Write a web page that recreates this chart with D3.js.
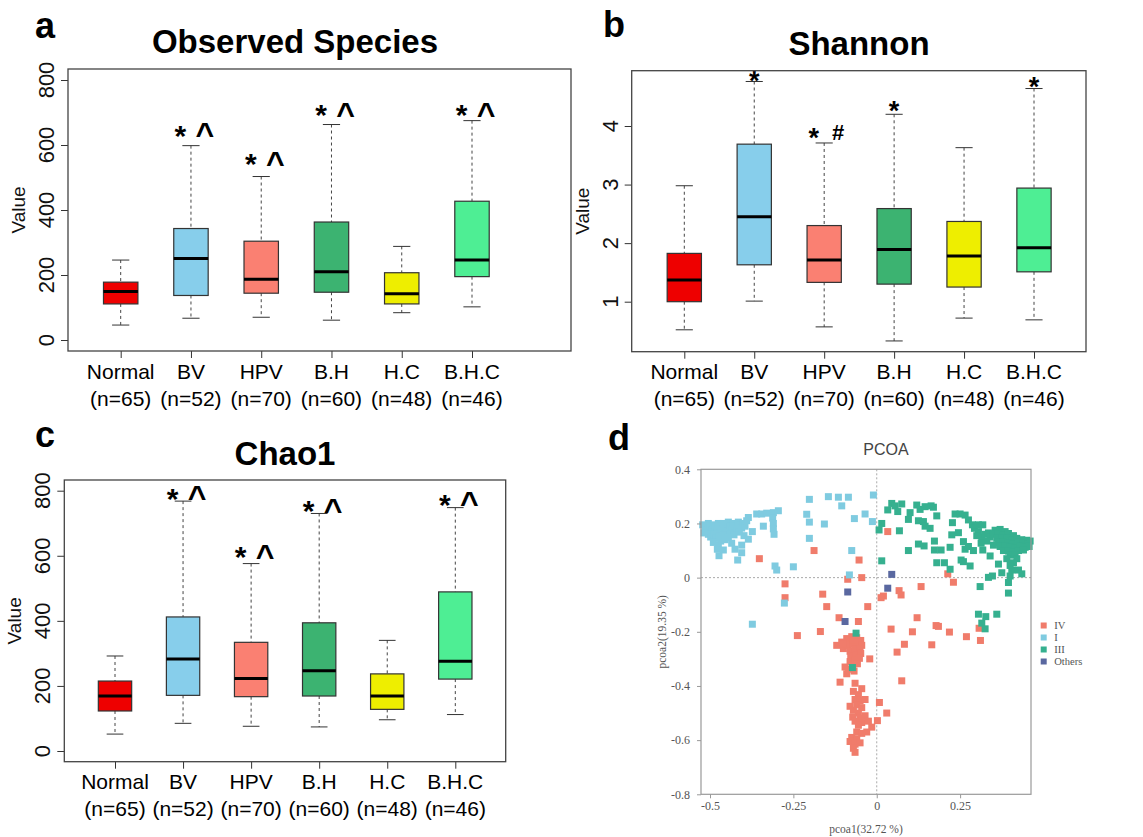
<!DOCTYPE html>
<html lang="en">
<head>
<meta charset="UTF-8">
<title>Alpha diversity and PCoA</title>
<script src="https://cdn.jsdelivr.net/npm/d3@7"></script>
<style>
  body { margin: 0; background: #fff; }
  svg { font-family: "Liberation Sans", Arial, sans-serif; }
</style>
</head>
<body>
<svg width="1143" height="837" id="mainsvg"></svg>
<script>
const groups = ["Normal", "BV", "HPV", "B.H", "H.C", "B.H.C"];
const groupSizes = ["(n=65)", "(n=52)", "(n=70)", "(n=60)", "(n=48)", "(n=46)"];
const boxColors = ["#EE0000", "#87CEEB", "#FA8072", "#3CB371", "#EEEE00", "#4EEE94"];

// each row: lower whisker, Q1, median, Q3, upper whisker
const observedStats = [[46,111,149,178,246],[67,137,251,343,598],[70,144,187,304,503],[61,147,210,363,663],[84,111,142,207,288],[102,195,246,427,675]];
const observedSig = ["", "* ^", "* ^", "* ^", "", "* ^"];
const observedSigAt = [null, 651, 562, 713, null, 713];

const shannonStats = [[0.52,1.0,1.37,1.825,2.98],[1.01,1.63,2.45,3.69,4.76],[0.57,1.33,1.71,2.30,3.71],[0.33,1.30,1.89,2.59,4.20],[0.72,1.25,1.78,2.37,3.63],[0.69,1.51,1.92,2.94,4.64]];
const shannonSig = ["", "*", "* #", "*", "", "*"];
const shannonSigAt = [null, 4.87, 3.90, 4.36, null, 4.78];

const chaoStats = [[52,123,169,215,292],[85,171,283,412,768],[76,167,223,334,576],[74,169,247,394,730],[96,128,169,237,340],[112,221,276,489,748]];
const chaoSig = ["", "* ^", "* ^", "* ^", "", "* ^"];
const chaoSigAt = [null, 797, 618, 758, null, 778];

const countTicks = [0, 200, 400, 600, 800];
const shannonTicks = [1, 2, 3, 4];

// PCoA
const pcoaClasses = ["IV", "I", "III", "Others"];
const pcoaColors = ["#F07C6B", "#7FCBE0", "#36B08F", "#5A68A0"];
const pcoaXTicks = [-0.5, -0.25, 0, 0.25];
const pcoaYTicks = [0.4, 0.2, 0, -0.2, -0.4, -0.6, -0.8];

const pcoaIV = [[0.033,0.17],[-0.188,0.1],[-0.352,0.07],[-0.053,0.065],[-0.087,-0.006],[-0.045,0.0],[0.213,0.014],[0.23,-0.017],
  [-0.275,-0.023],[-0.275,-0.074],[-0.162,-0.061],[-0.15,-0.107],[-0.027,-0.107],[0.067,-0.048],[0.073,-0.064],[0.02,-0.068],
  [0.013,-0.074],[0.133,-0.033],[-0.113,-0.148],[-0.055,-0.162],[-0.169,-0.199],[-0.238,-0.214],[0.043,-0.19],[0.107,-0.2],
  [0.121,-0.148],[0.083,-0.246],[0.061,-0.275],[0.075,-0.381],[0.165,-0.248],[0.178,-0.177],[0.185,-0.18],[0.218,-0.201],
  [0.269,-0.218],[0.307,-0.187],[0.311,-0.232],[-0.021,-0.3],[0.008,-0.461],[0.03,-0.5],[0.002,-0.528],[-0.015,-0.552],[-0.11,-0.386],
  [-0.12,-0.25],[-0.105,-0.238],[-0.09,-0.225],[-0.075,-0.218],[-0.06,-0.222],[-0.048,-0.232],[-0.1,-0.262],[-0.085,-0.25],
  [-0.07,-0.245],[-0.055,-0.24],[-0.045,-0.25],[-0.08,-0.272],[-0.065,-0.265],[-0.05,-0.262],[-0.078,-0.29],[-0.062,-0.285],
  [-0.048,-0.28],[-0.08,-0.31],[-0.066,-0.303],[-0.052,-0.298],[-0.072,-0.322],[-0.058,-0.318],[-0.085,-0.338],[-0.095,-0.33],
  [-0.068,-0.345],[-0.09,-0.355],[-0.1,-0.245],[-0.07,-0.23],
  [-0.065,-0.39],[-0.045,-0.41],[-0.07,-0.42],[-0.055,-0.432],[-0.065,-0.45],[-0.05,-0.455],[-0.035,-0.45],[-0.08,-0.475],
  [-0.06,-0.47],[-0.045,-0.48],[-0.07,-0.49],[-0.055,-0.5],[-0.072,-0.515],[-0.05,-0.52],[-0.035,-0.51],[-0.065,-0.53],
  [-0.045,-0.535],[-0.025,-0.53],[-0.055,-0.545],[-0.06,-0.57],[-0.045,-0.575],[-0.03,-0.57],[-0.075,-0.59],[-0.06,-0.595],
  [-0.08,-0.605],[-0.065,-0.615],[-0.05,-0.61],[-0.07,-0.63],[-0.065,-0.645]];

const pcoaI = [[-0.522,0.195],[-0.515,0.185],[-0.51,0.175],[-0.518,0.165],[-0.505,0.2],[-0.5,0.19],[-0.495,0.175],[-0.505,0.16],
  [-0.498,0.15],[-0.49,0.195],[-0.485,0.185],[-0.48,0.17],[-0.488,0.16],[-0.483,0.145],[-0.475,0.2],[-0.47,0.19],[-0.465,0.178],
  [-0.472,0.155],[-0.468,0.135],[-0.46,0.2],[-0.455,0.188],[-0.45,0.172],[-0.458,0.158],[-0.455,0.14],[-0.445,0.205],[-0.44,0.192],
  [-0.435,0.18],[-0.44,0.162],[-0.43,0.2],[-0.425,0.19],[-0.42,0.176],[-0.428,0.158],[-0.415,0.205],[-0.41,0.195],[-0.405,0.183],
  [-0.412,0.168],[-0.4,0.2],[-0.395,0.19],[-0.39,0.21],[-0.385,0.222],[-0.398,0.155],[-0.475,0.12],[-0.478,0.105],[-0.49,0.13],
  [-0.46,0.102],[-0.473,0.081],[-0.435,0.127],[-0.425,0.105],[-0.445,0.148],
  [-0.373,0.17],[-0.385,0.142],[-0.405,0.12],[-0.405,0.092],[-0.417,0.065],
  [-0.36,0.235],[-0.345,0.235],[-0.33,0.238],[-0.31,0.24],[-0.295,0.247],[-0.34,0.19],
  [-0.312,0.22],[-0.31,0.2],[-0.31,0.18],[-0.308,0.16],[-0.305,0.043],[-0.3,0.028],[-0.25,0.04],
  [-0.202,0.289],[-0.21,0.234],[-0.202,0.205],[-0.202,0.145],[-0.157,0.198],[-0.145,0.299],[-0.115,0.297],[-0.085,0.297],
  [-0.105,0.265],[-0.067,0.218],[-0.035,0.235],[-0.013,0.207],[-0.01,0.305],[-0.075,0.1],[-0.082,0.01],[-0.277,-0.094],[-0.373,-0.172]];

const pcoaIII = [[0.015,0.2],[0.007,0.176],[0.045,0.274],[0.055,0.265],[0.075,0.272],[0.033,0.25],[0.063,0.244],[0.068,0.173],
  [0.095,0.215],[0.1,0.24],[0.12,0.268],[0.13,0.252],[0.145,0.262],[0.163,0.265],[0.17,0.26],[0.125,0.21],[0.14,0.207],[0.145,0.19],
  [0.16,0.182],[0.18,0.228],[0.095,0.1],[0.125,0.124],[0.142,0.117],[0.173,0.135],[0.173,0.102],[0.193,0.102],[0.22,0.112],
  [0.225,0.158],[0.18,0.055],[0.203,0.055],[0.22,0.031],[0.015,0.062],[0.227,0.203],[0.235,0.235],[0.25,0.235],[0.265,0.231],
  [0.275,0.213],[0.287,0.195],[0.293,0.182],[0.245,0.166],[0.26,0.133],[0.265,0.105],[0.275,0.115],[0.29,0.1],[0.253,0.065],
  [0.26,0.059],[0.28,0.043],[0.305,0.195],[0.318,0.195],[0.305,0.17],[0.3,0.155],[0.315,0.15],[0.325,0.16],[0.335,0.165],
  [0.34,0.15],[0.33,0.135],[0.313,0.127],[0.318,0.102],[0.34,0.08],
  [0.355,0.175],[0.37,0.178],[0.385,0.17],[0.35,0.16],[0.365,0.162],[0.38,0.158],[0.395,0.163],[0.41,0.155],[0.36,0.145],
  [0.375,0.148],[0.39,0.145],[0.405,0.14],[0.42,0.145],[0.435,0.14],[0.45,0.138],[0.365,0.13],[0.38,0.132],[0.395,0.128],
  [0.41,0.125],[0.425,0.13],[0.44,0.128],[0.455,0.125],[0.46,0.135],[0.37,0.115],[0.385,0.118],[0.4,0.112],[0.415,0.11],
  [0.43,0.115],[0.445,0.112],[0.457,0.115],[0.38,0.1],[0.395,0.098],[0.41,0.095],[0.425,0.1],[0.44,0.102],[0.4,0.083],
  [0.415,0.085],[0.39,0.07],[0.35,0.12],[0.42,0.07],
  [0.335,0.001],[0.347,0.006],[0.375,0.018],[0.365,0.05],[0.4,0.006],[0.405,0.028],[0.395,-0.018],[0.425,0.028],[0.435,0.014],
  [0.41,0.055],[0.4,0.045],[0.31,-0.033],[0.395,-0.057],[0.305,-0.135],[0.327,-0.144],[0.36,-0.135],[0.315,-0.168],[0.325,-0.189],
  [-0.062,-0.205],[-0.073,-0.332]];

const pcoaOthers = [[0.045,0.012],[0.033,-0.039],[-0.087,-0.053],[-0.095,-0.162]];

const svg = d3.select("#mainsvg");

const panels = [
  {letter: "a", letterPos: [35, 38], title: "Observed Species", titlePos: [295, 53],
   stats: observedStats, sig: observedSig, sigAt: observedSigAt, ticks: countTicks, markSize: {"*": 30, "^": 32},
   frame: {left: 68, right: 571, top: 69, bottom: 351}, xRange: [120.7, 472], yDomain: [0, 800], yRange: [340, 80]},
  {letter: "b", letterPos: [603, 37], title: "Shannon", titlePos: [859, 55],
   stats: shannonStats, sig: shannonSig, sigAt: shannonSigAt, ticks: shannonTicks, markSize: {"*": 27, "#": 22},
   frame: {left: 631.7, right: 1086, top: 70.7, bottom: 351.7}, xRange: [684.3, 1034], yDomain: [1, 4], yRange: [301.7, 126]},
  {letter: "c", letterPos: [35, 447], title: "Chao1", titlePos: [285, 465],
   stats: chaoStats, sig: chaoSig, sigAt: chaoSigAt, ticks: countTicks, markSize: {"*": 30, "^": 32},
   frame: {left: 64.3, right: 505.7, top: 480, bottom: 761.7}, xRange: [115, 455.3], yDomain: [0, 800], yRange: [751, 490.7]}
];

// vertical centre of each glyph above its baseline, in em
const glyphMid = {"*": 0.57, "^": 0.52, "#": 0.36};

function drawBoxPanel(p) {
  const g = svg.append("g");
  const f = p.frame;
  const x = d3.scaleLinear().domain([0, groups.length - 1]).range(p.xRange);
  const y = d3.scaleLinear().domain(p.yDomain).range(p.yRange);
  const step = x(1) - x(0);
  const bw = step * 0.49;

  g.append("text").attr("x", p.letterPos[0]).attr("y", p.letterPos[1])
    .attr("font-size", 36).attr("font-weight", "bold").text(p.letter);
  g.append("text").attr("x", p.titlePos[0]).attr("y", p.titlePos[1])
    .attr("text-anchor", "middle").attr("font-size", 33).attr("font-weight", "bold").text(p.title);

  // y axis
  g.append("g").attr("transform", `translate(${f.left},0)`)
    .call(d3.axisLeft(y).tickValues(p.ticks).tickSize(7).tickFormat(""))
    .call(a => a.select(".domain").remove())
    .selectAll("line").attr("stroke", "#333");
  g.selectAll(".ytl").data(p.ticks).join("text")
    .attr("transform", d => `translate(${f.left - 14},${y(d)}) rotate(-90)`)
    .attr("text-anchor", "middle").attr("font-size", 22).attr("fill", "#111").text(d => d);
  g.append("text")
    .attr("transform", `translate(${f.left - 43},${(f.top + f.bottom) / 2}) rotate(-90)`)
    .attr("text-anchor", "middle").attr("font-size", 19).attr("fill", "#111").text("Value");

  // x axis
  g.append("g").attr("transform", `translate(0,${f.bottom})`)
    .call(d3.axisBottom(x).tickValues(d3.range(groups.length)).tickSize(7).tickFormat(""))
    .call(a => a.select(".domain").remove())
    .selectAll("line").attr("stroke", "#333");
  g.selectAll(".xtl").data(groups).join("text")
    .attr("x", (d, i) => x(i)).attr("y", f.bottom + 27.5)
    .attr("text-anchor", "middle").attr("font-size", 21).text(d => d);
  g.selectAll(".xtn").data(groupSizes).join("text")
    .attr("x", (d, i) => x(i)).attr("y", f.bottom + 54.5)
    .attr("text-anchor", "middle").attr("font-size", 21).text(d => d);

  // boxes
  const box = g.selectAll(".box").data(p.stats).join("g").attr("class", "box");
  box.append("line").attr("x1", (d, i) => x(i)).attr("x2", (d, i) => x(i))
    .attr("y1", d => y(d[4])).attr("y2", d => y(d[3]))
    .attr("stroke", "#444").attr("stroke-dasharray", "3,3");
  box.append("line").attr("x1", (d, i) => x(i)).attr("x2", (d, i) => x(i))
    .attr("y1", d => y(d[1])).attr("y2", d => y(d[0]))
    .attr("stroke", "#444").attr("stroke-dasharray", "3,3");
  [0, 4].forEach(k => {
    box.append("line").attr("x1", (d, i) => x(i) - bw / 4).attr("x2", (d, i) => x(i) + bw / 4)
      .attr("y1", d => y(d[k])).attr("y2", d => y(d[k])).attr("stroke", "#333");
  });
  box.append("rect").attr("x", (d, i) => x(i) - bw / 2).attr("y", d => y(d[3]))
    .attr("width", bw).attr("height", d => y(d[1]) - y(d[3]))
    .attr("fill", (d, i) => boxColors[i]).attr("stroke", "#333").attr("stroke-width", 1.2);
  box.append("line").attr("x1", (d, i) => x(i) - bw / 2).attr("x2", (d, i) => x(i) + bw / 2)
    .attr("y1", d => y(d[2])).attr("y2", d => y(d[2])).attr("stroke", "#000").attr("stroke-width", 3);

  // significance marks
  p.sig.forEach((s, i) => {
    if (!s) return;
    const marks = s.split(" ");
    const offs = marks.length === 2 ? [-10.5, 14] : [0];
    marks.forEach((m, k) => {
      const fs = p.markSize[m];
      g.append("text").attr("x", x(i) + offs[k]).attr("y", y(p.sigAt[i]) + glyphMid[m] * fs)
        .attr("text-anchor", "middle").attr("font-size", fs).attr("font-weight", "bold").text(m);
    });
  });

  g.append("rect").attr("x", f.left).attr("y", f.top)
    .attr("width", f.right - f.left).attr("height", f.bottom - f.top)
    .attr("fill", "none").attr("stroke", "#444").attr("stroke-width", 1.3);
}

panels.forEach(drawBoxPanel);

// panel d: PCoA
function drawPcoa() {
  const g = svg.append("g");
  const f = {left: 701, right: 1031, top: 469.3, bottom: 794.3};
  const x = d3.scaleLinear().domain([-0.527, 0.4626]).range([f.left, f.right]);
  const y = d3.scaleLinear().domain([-0.8, 0.4]).range([f.bottom, f.top]);
  const serif = "'Liberation Serif', 'Times New Roman', serif";

  g.append("text").attr("x", 608).attr("y", 450).attr("font-size", 36).attr("font-weight", "bold").text("d");
  g.append("text").attr("x", 886).attr("y", 455).attr("text-anchor", "middle")
    .attr("font-size", 16).attr("fill", "#444").text("PCOA");

  g.append("line").attr("x1", x(0)).attr("x2", x(0)).attr("y1", f.top).attr("y2", f.bottom)
    .attr("stroke", "#aaa").attr("stroke-dasharray", "2,2");
  g.append("line").attr("x1", f.left).attr("x2", f.right).attr("y1", y(0)).attr("y2", y(0))
    .attr("stroke", "#aaa").attr("stroke-dasharray", "2,2");

  const series = [pcoaIV, pcoaI, pcoaIII, pcoaOthers];
  const sz = 7;
  series.forEach((pts, k) => {
    g.append("g").selectAll("rect").data(pts).join("rect")
      .attr("x", d => x(d[0]) - sz / 2).attr("y", d => y(d[1]) - sz / 2)
      .attr("width", sz).attr("height", sz).attr("fill", pcoaColors[k]);
  });

  g.append("rect").attr("x", f.left).attr("y", f.top).attr("width", f.right - f.left).attr("height", f.bottom - f.top)
    .attr("fill", "none").attr("stroke", "#999").attr("stroke-width", 1.2);

  const ya = g.append("g").attr("transform", `translate(${f.left},0)`)
    .call(d3.axisLeft(y).tickValues(pcoaYTicks).tickSize(4).tickFormat(d => String(+d.toFixed(1))));
  ya.select(".domain").remove();
  ya.selectAll("line").attr("stroke", "#999");
  ya.selectAll("text").attr("font-family", serif).attr("font-size", 12).attr("fill", "#555").attr("x", -11);

  const xa = g.append("g").attr("transform", `translate(0,${f.bottom})`)
    .call(d3.axisBottom(x).tickValues(pcoaXTicks).tickSize(4).tickFormat(d => String(d)));
  xa.select(".domain").remove();
  xa.selectAll("line").attr("stroke", "#999");
  xa.selectAll("text").attr("font-family", serif).attr("font-size", 12).attr("fill", "#555").attr("y", 7);

  g.append("text").attr("x", (f.left + f.right) / 2).attr("y", 833).attr("text-anchor", "middle")
    .attr("font-family", serif).attr("font-size", 11.5).attr("fill", "#555").text("pcoa1(32.72 %)");
  g.append("text").attr("transform", `translate(666,${(f.top + f.bottom) / 2}) rotate(-90)`)
    .attr("text-anchor", "middle").attr("font-family", serif).attr("font-size", 11.5).attr("fill", "#555")
    .text("pcoa2(19.35 %)");

  const leg = g.selectAll(".leg").data(pcoaClasses).join("g")
    .attr("transform", (d, i) => `translate(1043.7,${625.5 + i * 12})`);
  leg.append("rect").attr("x", -3).attr("y", -3).attr("width", 6).attr("height", 6).attr("fill", (d, i) => pcoaColors[i]);
  leg.append("text").attr("x", 10.5).attr("dy", "0.35em").attr("font-family", serif).attr("font-size", 10.6)
    .attr("fill", "#555").text(d => d);
}

drawPcoa();
</script>
</body>
</html>
